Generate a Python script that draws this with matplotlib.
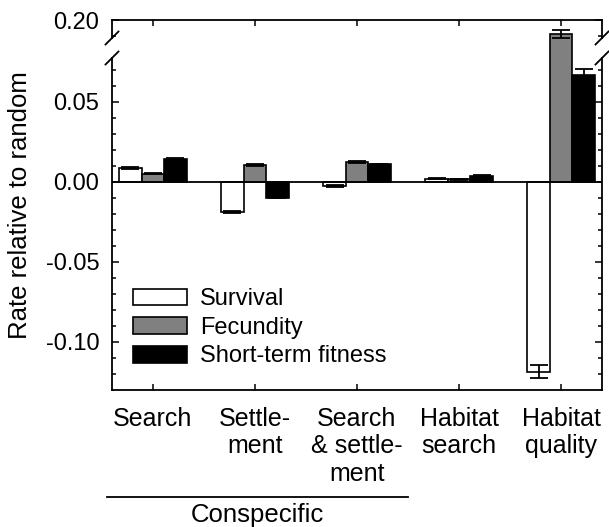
import numpy as np
import matplotlib.pyplot as plt
import matplotlib.transforms as mtransforms

plt.rcParams['font.family'] = ['Liberation Sans', 'DejaVu Sans']

# cue types on the x axis
categories = ['Search', 'Settle-\nment', 'Search\n& settle-\nment',
              'Habitat\nsearch', 'Habitat\nquality']

# rates relative to random settlement
survival = [0.009, -0.0185, -0.0025, 0.002, -0.1185]
fecundity = [0.0052, 0.0105, 0.0125, 0.0018, 0.1915]
fitness = [0.0142, -0.0098, 0.011, 0.0038, 0.067]

survival_err = [0.0006, 0.0006, 0.0005, 0.0003, 0.0043]
fecundity_err = [0.0005, 0.0005, 0.0005, 0.0003, 0.0025]
fitness_err = [0.0006, 0.0005, 0.0005, 0.0004, 0.0038]

series_names = ['Survival', 'Fecundity', 'Short-term fitness']

# broken y axis: values above BREAK_AT are shifted down by BREAK_SHIFT
BREAK_AT = 0.15
BREAK_SHIFT = 0.099


def squash(v):
    v = np.asarray(v, dtype=float)
    return np.where(v > BREAK_AT, v - BREAK_SHIFT, v)


fig = plt.figure(figsize=(6.09, 5.27), dpi=100)
ax = fig.add_axes([112 / 609, 1 - 390 / 527, 490 / 609, 370 / 527])

x = np.arange(len(categories))
width = 0.22
err_kw = dict(ecolor='black', capsize=6.5, elinewidth=1.3, capthick=1.3)

for i, (vals, errs, color, name) in enumerate(zip(
        [survival, fecundity, fitness],
        [survival_err, fecundity_err, fitness_err],
        ['white', '#808080', 'black'],
        series_names)):
    ax.bar(x + (i - 1) * width, squash(vals), width, yerr=errs,
           color=color, edgecolor='black', linewidth=1.2,
           error_kw=err_kw, label=name, zorder=2)

ax.axhline(0, color='black', linewidth=1.3, zorder=3)

ymin, ymax = -0.13, 0.10125
ax.set_ylim(ymin, ymax)
ax.set_xlim(-0.4, 4.4)

# y ticks, with the 0.20 tick sitting above the break
major_vals = [-0.10, -0.05, 0.0, 0.05, 0.20]
ax.set_yticks(squash(major_vals))
ax.set_yticklabels(['-0.10', '-0.05', '0.00', '0.05', '0.20'], fontsize=17)
minor_vals = [v for v in np.round(np.arange(-0.12, 0.0751, 0.01), 2)
              if round(v * 100) % 5 != 0] + [0.19]
ax.set_yticks(squash(minor_vals), minor=True)

ax.set_xticks(x)
ax.set_xticklabels(categories, fontsize=18, linespacing=1.2)

ax.tick_params(axis='y', which='both', direction='in', left=True, right=True,
               width=1.1, pad=9)
ax.tick_params(axis='y', which='major', length=5)
ax.tick_params(axis='y', which='minor', length=3)
ax.tick_params(axis='x', direction='in', top=True, bottom=True, length=4,
               width=1.1, pad=12)

# side spines with a gap and slash marks at the break
low_top, high_bottom = 0.0775, 0.09
for side in ['left', 'right']:
    ax.spines[side].set_bounds(ymin, low_top)
for sp in ax.spines.values():
    sp.set_linewidth(1.3)

ytrans = ax.get_yaxis_transform()
dx, dy = 6.5 / 490, 6.5 / 1600
for xs in [0, 1]:
    ax.plot([xs, xs], [high_bottom, ymax], transform=ytrans, color='black',
            linewidth=1.3, clip_on=False, zorder=4)
    for yb in [low_top, high_bottom]:
        ax.plot([xs - dx, xs + dx], [yb - dy, yb + dy], transform=ytrans,
                color='black', linewidth=1.3, clip_on=False, zorder=4)

ax.set_ylabel('Rate relative to random', fontsize=18.5, va='center')
ax.yaxis.set_label_coords(-0.188, 0.5)

# grouping line under the conspecific cues
xtrans = mtransforms.blended_transform_factory(ax.transData, ax.transAxes)
ax.plot([-0.45, 2.5], [-0.289, -0.289], transform=xtrans, color='black',
        linewidth=1.3, clip_on=False)
ax.text(1.02, -0.338, 'Conspecific', transform=xtrans, ha='center',
        va='center', fontsize=18.5)

ax.legend(loc='upper left', bbox_to_anchor=(0.043, 0.275), frameon=False,
          fontsize=17, borderpad=0, borderaxespad=0, handlelength=2.3,
          handleheight=0.72, handletextpad=0.55, labelspacing=0.28)

fig.savefig('out.png', dpi=100)
